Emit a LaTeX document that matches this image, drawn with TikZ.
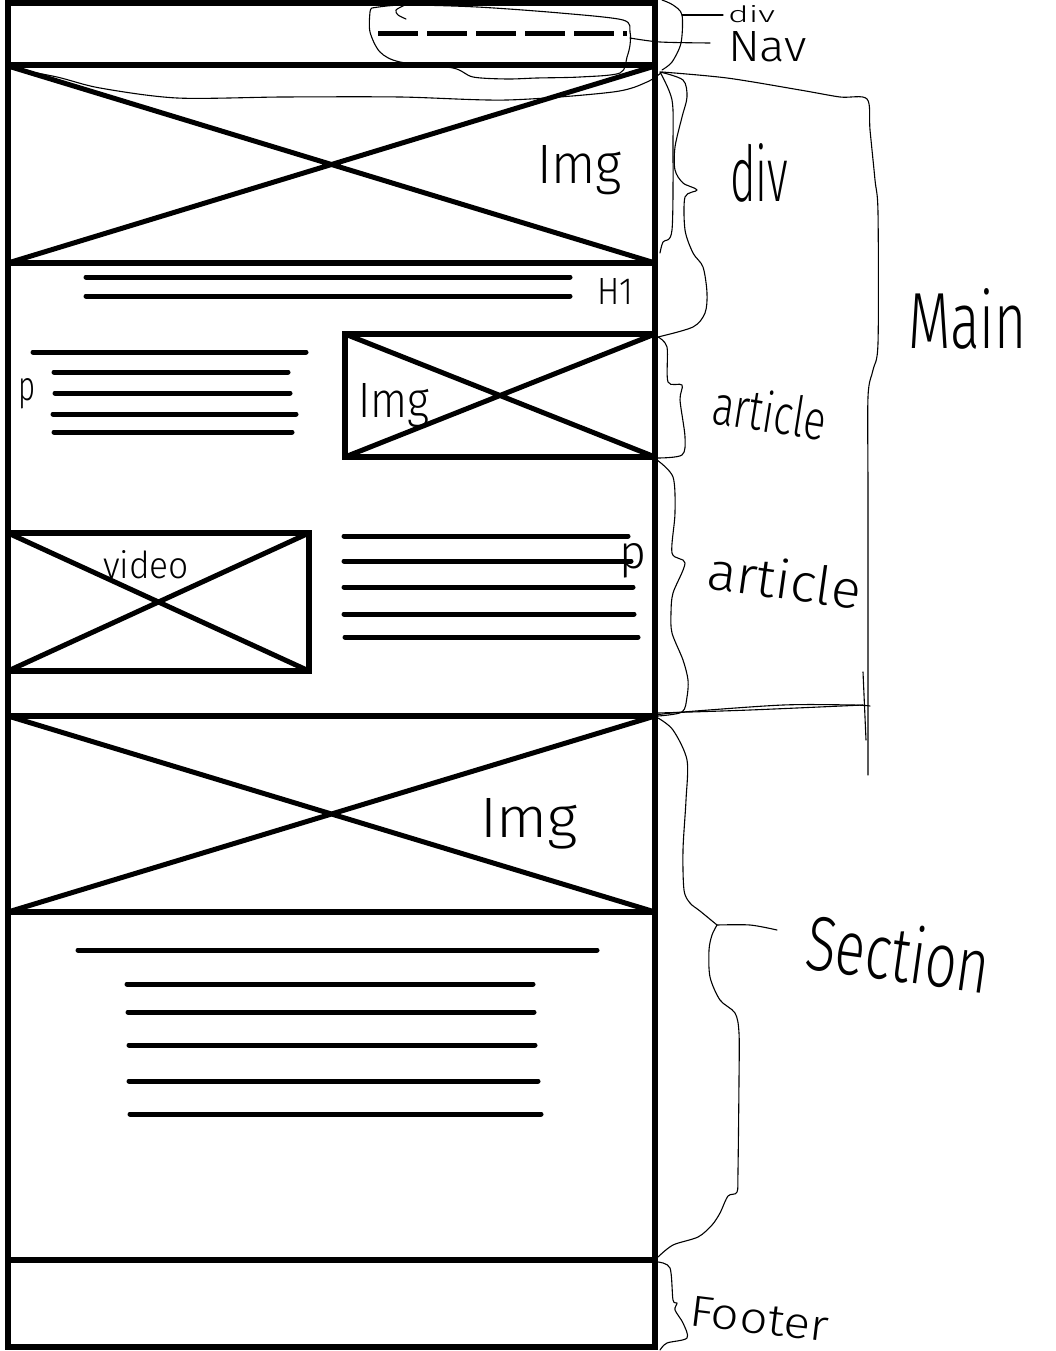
\documentclass[tikz,border=0pt]{standalone}
\usepackage{fontspec}
\setmainfont{Fira Sans}[UprightFont={* Light}]
\usepackage{graphicx}
\newcommand\hwtext[3]{\resizebox{#1pt}{#2pt}{#3}}
\tikzset{
  frame/.style={line width=6pt},
  textline/.style={line width=5pt, line cap=round},
  crossline/.style={line width=5pt},
  pen/.style={line width=1.1pt, line join=round, line cap=round},
  hw/.style={inner sep=0pt, outer sep=0pt, anchor=base west}
}
\begin{document}
\begin{tikzpicture}[x=1pt,y=-1pt]
\useasboundingbox (0,0) rectangle (1055,1351);
% outer frame and separators
\draw[frame] (8,3) rectangle (655,1347);
\foreach \yy in {65,263,716,912,1260} \draw[frame] (8,\yy) -- (655,\yy);
% top image cross
\draw[crossline] (8,66) -- (655,263) (8,263) -- (655,66);
% H1 lines
\draw[textline] (86,277) -- (570,277) (86,296) -- (570,296);
% article 1
\draw[textline] (33,352) -- (306,352) (54,372) -- (288,372) (55,393) -- (290,393) (53,414) -- (296,414) (54,432) -- (292,432);
\draw[frame] (345,334) rectangle (655,457);
\draw[crossline] (345,334) -- (655,457) (345,457) -- (655,334);
% article 2
\draw[frame] (8,533) rectangle (309,671);
\draw[crossline] (8,533) -- (309,671) (8,671) -- (309,533);
\draw[textline] (344,536) -- (628,536) (344,561) -- (631,561) (344,587) -- (633,587) (344,614) -- (634,614) (345,637) -- (638,637);
% section image
\draw[crossline] (8,716) -- (655,912) (8,912) -- (655,716);
\draw[textline] (78,950) -- (597,950) (127,984) -- (533,984) (128,1012) -- (534,1012) (129,1045) -- (535,1045) (129,1081) -- (538,1081) (130,1114) -- (541,1114);
% nav dashes
\draw[line width=5pt, dash pattern=on 40pt off 9pt] (378,34) -- (627,34);

% hand-drawn annotations
\draw[pen] plot[smooth] coordinates {(372,8) (403,5) (477,7) (560,13) (623,20) (630,32) (630,45) (627,57) (620,73) (580,77) (537,78) (507,79) (473,77) (453,68) (400,62) (380,52) (370,32) (370,12) (372,8)};
\draw[pen] plot[smooth] coordinates {(405,5) (396,10) (398,15) (406,19)};
\draw[pen] plot[smooth] coordinates {(662,0) (673,5) (682,15) (681,43) (672,62) (662,70)};
\draw[pen] (682,15) -- (723,15);
\draw[pen] plot[smooth] coordinates {(630,38) (660,42) (710,43)};
\draw[pen] plot[smooth] coordinates {(10,68) (57,77) (100,88) (177,98) (283,97) (400,97) (507,100) (613,92) (647,82) (662,72)};
% Main bracket
\draw[pen] plot[smooth] coordinates {(662,72) (727,78) (800,90) (840,97) (867,99) (870,130) (875,180) (878,213) (878,343) (873,370) (868,397) (868,500) (868,775)};
\draw[pen] (863,672) -- (866,740);
\draw[pen] plot[smooth] coordinates {(655,715) (683,712) (783,705) (853,705) (870,706)};
\draw[pen] plot[smooth] coordinates {(658,713) (750,710) (863,705)};
% div brace
\draw[pen] plot[smooth] coordinates {(660,72) (683,80) (687,97) (682,117) (675,147) (675,170) (683,183) (697,190) (685,197) (685,230) (693,253) (703,267) (707,293) (705,313) (693,327) (658,337)};
\draw[pen] plot[smooth] coordinates {(660,72) (672,100) (673,143) (672,230) (663,242) (660,253)};
% article braces
\draw[pen] plot[smooth] coordinates {(658,337) (667,347) (668,382) (682,385) (680,400) (685,437) (682,455) (658,458)};
\draw[pen] plot[smooth] coordinates {(657,460) (673,477) (675,513) (672,553) (685,563) (673,593) (671,613) (672,633) (683,660) (688,680) (687,697) (682,712) (658,716)};
% section brace
\draw[pen] plot[smooth] coordinates {(658,718) (673,730) (687,760) (686,800) (683,850) (684,890) (690,903) (700,911) (717,925)};
\draw[pen] plot[smooth] coordinates {(717,925) (712,935) (709,950) (710,977) (720,1000) (735,1013) (739,1033) (739,1080) (738,1170) (737,1192) (728,1196) (720,1213) (712,1225) (698,1237) (673,1245) (658,1257)};
\draw[pen] plot[smooth] coordinates {(717,925) (750,925) (777,930)};
% footer brace
\draw[pen] plot[smooth] coordinates {(658,1262) (670,1268) (673,1300) (677,1303) (675,1310) (683,1323) (687,1338) (667,1343) (660,1350)};

% labels
\node[hw] (ldivtop) at (728,23) {\hwtext{47}{17}{div}};
\node[hw] (lnav) at (728,62) {\hwtext{79}{30}{Nav}};
\node[hw] (limg1) at (537,183) {\hwtext{85}{38}{Img}};
\node[hw] (ldiv) at (730,201) {\hwtext{58}{58}{div}};
\node[hw] (lh1) at (597,304) {\hwtext{36}{26}{H1}};
\node[hw] (lmain) at (908,348) {\hwtext{119}{60}{Main}};
\node[hw] (lp1) at (19,400) {\hwtext{17}{22}{p}};
\node[hw] (limg2) at (358,417) {\hwtext{71}{34}{Img}};
\node[hw, rotate=-9] (lart1) at (710,423) {\hwtext{115}{42}{article}};
\node[hw] (lvideo) at (103,578) {\hwtext{86}{28}{video}};
\node[hw] (lp2) at (619,568) {\hwtext{27}{25}{p}};
\node[hw, rotate=-8] (lart2) at (705,588) {\hwtext{155}{40}{article}};
\node[hw] (limg3) at (480,837) {\hwtext{98}{39}{Img}};
\node[hw, rotate=-8] (lsection) at (803,968) {\hwtext{185}{58}{Section}};
\node[hw, rotate=-7] (lfooter) at (688,1325) {\hwtext{140}{30}{Footer}};
\end{tikzpicture}
\end{document}
